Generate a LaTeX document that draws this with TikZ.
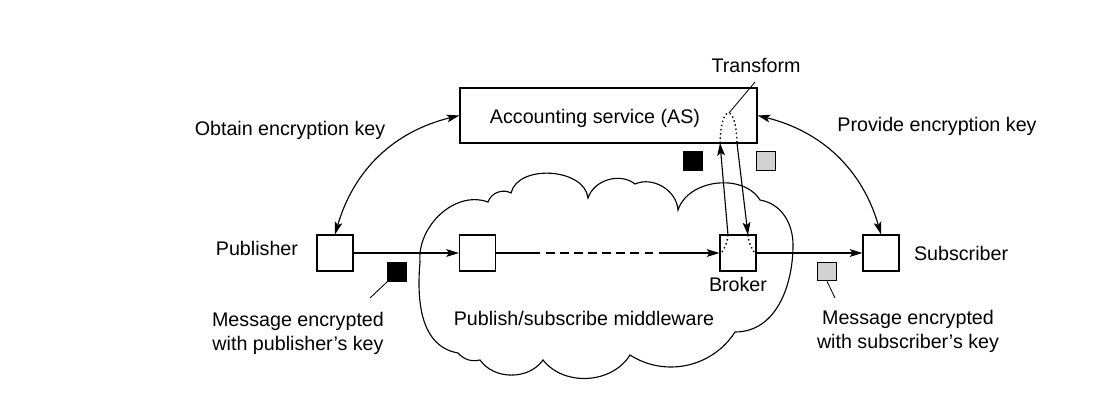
\documentclass[tikz,border=0pt]{standalone}
\usepackage{fontspec}
\setmainfont{Liberation Sans}
\usetikzlibrary{positioning,arrows.meta}
\tikzset{>={Stealth[length=9pt,width=5.5pt,inset=2pt]}}

\begin{document}
\begin{tikzpicture}[
    x=0.025cm, y=0.025cm,
    font=\fontsize{14}{17}\selectfont,
    line width=0.8pt,
    client/.style={rectangle, draw, fill=white, minimum size=0.9cm, inner sep=0pt},
    keyblack/.style={rectangle, draw, fill=black, minimum size=0.46cm, inner sep=0pt},
    keygray/.style={rectangle, draw, fill=gray!35, minimum size=0.46cm, inner sep=0pt},
    service/.style={rectangle, draw, minimum width=7.425cm, minimum height=1.375cm},
    txt/.style={align=center},
    flow/.style={->},
    keylink/.style={<->, bend left=30},
    leader/.style={line width=0.6pt},
    trace/.style={dotted, line width=1pt}
]
\useasboundingbox (0,0) rectangle (1114,403);

% the middleware cloud
\draw (458,50) to[out=170,in=-95] (420,141)
  to[out=95,in=160] (488,201)
  to[bend left=50] (511,210)
  to[bend left=80] (588,205)
  to[bend left=55] (635,219)
  to[bend left=55] (678,193)
  to[bend left=65] (760,203)
  to[out=-10,in=90] (793,158)
  to[out=-90,in=0] (735,71)
  to[bend left=45] (630,48)
  to[bend left=55] (543,43)
  to[bend left=55] (480,43)
  to[bend left=30] (458,50);

\node[service] (as) at (608.5,287.5) {};
\node (astext) at (595,285) {Accounting service (AS)};
\node (trans) at (756,338) {Transform};

\node[client] (pub) at (335,150) {};
\node[client] (mid) at (477.5,150) {};
\node[client] (broker) at (738,150) {};
\node[client] (sub) at (881,150) {};
\node[left=0.33cm of pub, yshift=1.2mm] (publabel) {Publisher};
\node[right=0.23cm of sub] (sublabel) {Subscriber};
\node[below=0pt of broker] (brokerlabel) {Broker};

\node (obtain) at (290,273) {Obtain encryption key};
\node (provide) at (937,277) {Provide encryption key};
\node (middleware) at (584,85) {Publish/subscribe middleware};

\node[keyblack] (keyp) at (397,131) {};
\node[keygray] (keys) at (827,131.5) {};
\node[keyblack] (keyin) at (693,242) {};
\node[keygray] (keyout) at (766,242) {};
\node[txt] (msgp) at (298,70) {Message encrypted\\with publisher's key};
\node[txt] (msgs) at (908,72) {Message encrypted\\with subscriber's key};

\coordinate (dash1) at (532,150);
\coordinate (dash2) at (664,150);
\coordinate (upfrom) at (728,168);
\coordinate (upto) at (720,260);
\coordinate (downfrom) at (737,260);
\coordinate (downto) at (748,168);
\coordinate (peak) at (729,290);
\coordinate (transfoot) at (755,321);
\coordinate (inl) at (722,151);
\coordinate (inr) at (754,151);
\coordinate (msgpfoot) at (370,105);
\coordinate (msgsfoot) at (835,105);

% message path
\draw[flow] (pub) -- (mid);
\draw (mid) -- (dash1);
\draw[dash pattern=on 6pt off 4pt] (dash1) -- (dash2);
\draw[flow] (dash2) -- (broker);
\draw[flow] (broker) -- (sub);

% keys
\draw[keylink] (pub.north) to (as.west);
\draw[keylink] (as.east) to (sub.north);

% transform through AS
\draw[flow] (upfrom) -- (upto);
\draw[flow] (downfrom) -- (downto);
\draw[trace] (upto) .. controls +(1,40) and +(-1,40) .. (downfrom);
\draw[trace] (inl) to[out=60,in=-95] (upfrom);
\draw[trace] (downto) to[out=-85,in=120] (inr);

\draw[leader] (transfoot) -- (peak);
\draw[leader] (msgpfoot) -- (keyp.south west);
\draw[leader] (msgsfoot) -- (keys.south);
\end{tikzpicture}
\end{document}
